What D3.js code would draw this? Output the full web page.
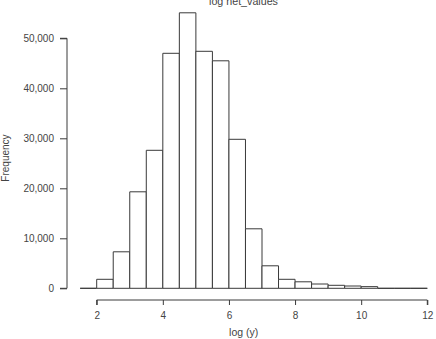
<!DOCTYPE html>
<html>
<head>
<meta charset="utf-8">
<script src="https://cdn.jsdelivr.net/npm/d3@7.9.0/dist/d3.min.js"></script>
<style>
  body { margin: 0; background: #fff; }
  svg text { font-family: "Liberation Sans", Arial, sans-serif; fill: #444; }
</style>
</head>
<body>
<svg id="chart" width="436" height="339"></svg>
<script>
// bin edges (width 0.5) and counts
const binStarts = [1.5, 2, 2.5, 3, 3.5, 4, 4.5, 5, 5.5, 6, 6.5, 7, 7.5, 8, 8.5, 9, 9.5, 10, 10.5, 11, 11.5];
const counts = [0, 1800, 7300, 19300, 27600, 47000, 55100, 47400, 45500, 29800, 11900, 4500, 1800, 1300, 860, 600, 460, 330, 0, 0, 0];
const xTicks = [2, 4, 6, 8, 10, 12];
const yTicks = [0, 10000, 20000, 30000, 40000, 50000];
const binWidth = 0.5;

const svg = d3.select('#chart');
const stroke = '#3a3a3a';

const x = d3.scaleLinear().domain([2, 12]).range([96.7, 427.3]);
const y = d3.scaleLinear().domain([0, 50000]).range([288.3, 38.3]);

// bars as closed paths, so empty bins still show as a line on the baseline
svg.append('g')
  .selectAll('path')
  .data(binStarts.map((s, i) => ({ s, c: counts[i] })))
  .join('path')
  .attr('d', (d) => {
    const x0 = x(d.s), x1 = x(d.s + binWidth), y0 = y(0), y1 = y(d.c);
    return `M${x0},${y0}V${y1}H${x1}V${y0}Z`;
  })
  .attr('fill', '#fff')
  .attr('stroke', stroke)
  .attr('stroke-width', 1);

// y axis
const yAxis = svg.append('g')
  .attr('transform', 'translate(67,0)')
  .call(d3.axisLeft(y).tickValues(yTicks).tickSize(7).tickPadding(6).tickFormat(d3.format(',')));
yAxis.select('.domain').attr('d', `M-7,${y(0)}H0V${y(50000)}H-7`).attr('stroke', stroke);
yAxis.selectAll('.tick line').attr('stroke', stroke);
yAxis.selectAll('.tick text').attr('font-size', 10).style('fill', '#444');

// x axis
const xAxis = svg.append('g')
  .attr('transform', 'translate(0,300)')
  .call(d3.axisBottom(x).tickValues(xTicks).tickSize(5).tickPadding(7));
xAxis.select('.domain').attr('d', `M${x(2)},5V0H${x(12)}V5`).attr('stroke', stroke);
xAxis.selectAll('.tick line').attr('stroke', stroke);
xAxis.selectAll('.tick text').attr('font-size', 10).style('fill', '#444');
svg.selectAll('.domain, .tick line').attr('stroke-width', 1);

// labels
svg.append('text')
  .attr('x', 243.5).attr('y', 5)
  .attr('text-anchor', 'middle')
  .attr('font-size', 10.7)
  .text('log net_values');

svg.append('text')
  .attr('x', 243.7).attr('y', 336)
  .attr('text-anchor', 'middle')
  .attr('font-size', 10.5)
  .text('log (y)');

svg.append('text')
  .attr('transform', 'translate(9,158) rotate(-90)')
  .attr('text-anchor', 'middle')
  .attr('font-size', 10)
  .text('Frequency');
</script>
</body>
</html>
